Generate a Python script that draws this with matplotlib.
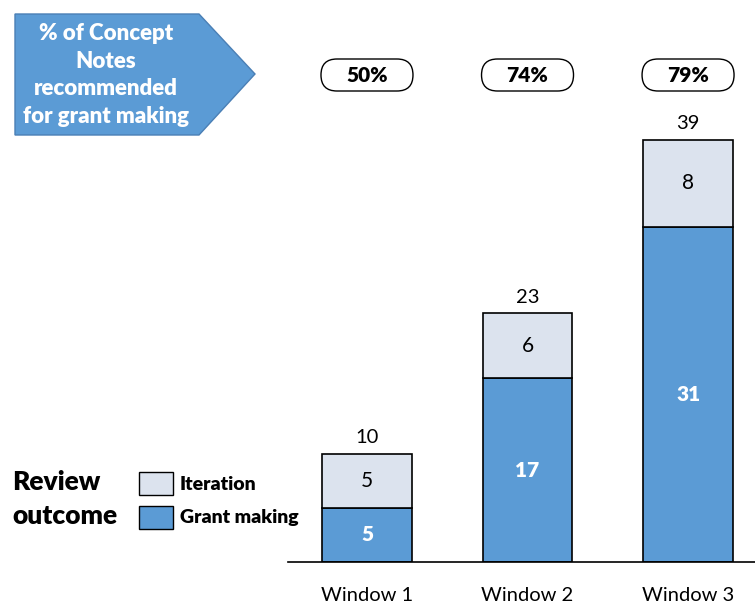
import matplotlib.pyplot as plt
from matplotlib.patches import FancyBboxPatch, Polygon, Rectangle

plt.rcParams['font.family'] = ['Lato', 'DejaVu Sans']

windows = ['Window 1', 'Window 2', 'Window 3']
grant_making = [5, 17, 31]
iteration = [5, 6, 8]
pct_recommended = ['50%', '74%', '79%']

BLUE = '#5B9BD5'
LIGHT = '#DCE3EE'

W, H = 755, 605
fig = plt.figure(figsize=(W / 100, H / 100), dpi=100)

# bar axes: only the baseline is shown
ax = fig.add_axes([288 / W, 43 / H, (W - 288) / W, 562 / H])
x = list(range(len(windows)))
totals = [g + i for g, i in zip(grant_making, iteration)]

ax.bar(x, grant_making, width=0.56, color=BLUE, edgecolor='black', linewidth=1.2)
ax.bar(x, iteration, width=0.56, bottom=grant_making, color=LIGHT,
       edgecolor='black', linewidth=1.2)

for xi, g, it, t in zip(x, grant_making, iteration, totals):
    ax.text(xi, g / 2, str(g), ha='center', va='center', color='white',
            fontsize=15, fontweight='heavy')
    ax.text(xi, g + it / 2, str(it), ha='center', va='center', color='black',
            fontsize=15)
    ax.text(xi, t + 0.7, str(t), ha='center', va='bottom', color='black',
            fontsize=14.5)

ax.set_xlim(-0.492, 2.417)
ax.set_ylim(0, 51.94)
ax.set_xticks(x)
ax.set_xticklabels(windows, fontsize=14.5)
ax.tick_params(axis='x', length=0, pad=18)
ax.set_yticks([])
for side in ['top', 'left', 'right']:
    ax.spines[side].set_visible(False)
ax.spines['bottom'].set_linewidth(1.2)

# overlay in pixel units for the header shapes and the legend
ov = fig.add_axes([0, 0, 1, 1], zorder=5)
ov.set_xlim(0, W)
ov.set_ylim(H, 0)
ov.axis('off')
ov.patch.set_alpha(0)

# pentagon arrow with header text
arrow = Polygon([(15, 14), (199, 14), (255, 74), (199, 135), (15, 135)],
                closed=True, facecolor=BLUE, edgecolor='#4A7FB5', linewidth=1)
ov.add_patch(arrow)
ov.text(106, 75, '% of Concept\nNotes\nrecommended\nfor grant making',
        ha='center', va='center', color='white', fontsize=16,
        fontweight='heavy', linespacing=1.38)

# pill boxes with percentages above each bar
fig.canvas.draw()
to_ov = ov.transData.inverted()
for xi, p in zip(x, pct_recommended):
    px = to_ov.transform(ax.transData.transform((xi, 0)))[0]
    pill = FancyBboxPatch((px - 46, 59), 92, 32,
                          boxstyle='round,pad=0,rounding_size=16',
                          facecolor='white', edgecolor='black', linewidth=1)
    ov.add_patch(pill)
    ov.text(px, 75, p, ha='center', va='center', fontsize=15,
            fontweight='heavy')

# legend
ov.text(12, 499, 'Review\noutcome', ha='left', va='center', fontsize=19,
        fontweight='heavy', linespacing=1.45)
ov.add_patch(Rectangle((139, 472), 34, 23, facecolor=LIGHT,
                       edgecolor='black', linewidth=1))
ov.add_patch(Rectangle((139, 506), 34, 23, facecolor=BLUE,
                       edgecolor='black', linewidth=1))
ov.text(180, 484, 'Iteration', ha='left', va='center', fontsize=14,
        fontweight='heavy')
ov.text(180, 518, 'Grant making', ha='left', va='center', fontsize=14,
        fontweight='heavy')

fig.savefig('out.png', dpi=100)
